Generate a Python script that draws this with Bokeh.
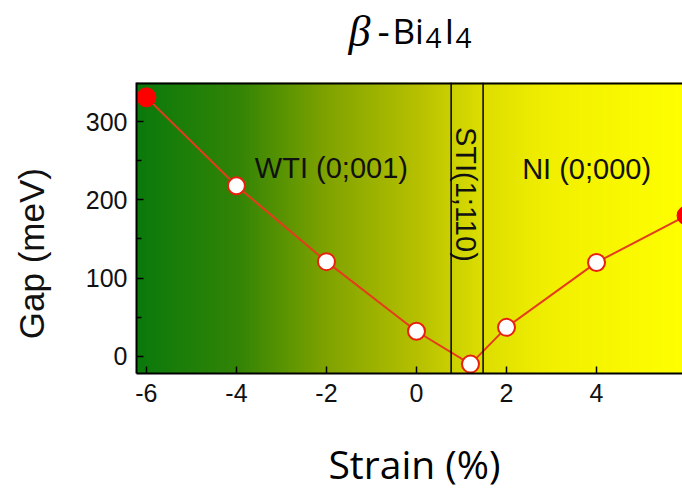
import numpy as np
from bokeh.plotting import figure
from bokeh.layouts import column, row
from bokeh.models import FixedTicker, Span, Range1d
from bokeh.core.properties import value
from bokeh.embed import file_html
from bokeh.resources import INLINE

# Band gap of beta-Bi4I4 versus uniaxial strain
strain = [-6, -4, -2, 0, 1.2, 2, 4, 6]
gap = [331, 218, 121, 32, -10, 37, 120, 180]
is_endpoint = [True, False, False, False, False, False, False, True]

# Topological phase boundaries (strain, %) and phase names
phase_bounds = [0.77, 1.48]
phase_names = ["WTI (0;001)", "STI(1;110)", "NI (0;000)"]
phase_name_x = [-1.89, 1.11, 3.78]
phase_name_y = [241, 207, 240]
phase_name_angle = [0.0, -np.pi / 2, 0.0]

x_ticks = [-6, -4, -2, 0, 2, 4, 6]
y_ticks = [0, 100, 200, 300]
y_minor_ticks = [50, 150, 250]

X_RANGE = (-6.22, 5.91)
Y_RANGE = (-22, 350)

FONT = "Liberation Sans"


def text_panel(width, height, x0, y0):
    """Axis-free strip whose data units are page pixels (y grows downward)."""
    f = figure(width=width, height=height,
               x_range=Range1d(x0, x0 + width), y_range=Range1d(y0 + height, y0),
               x_axis_type=None, y_axis_type=None, min_border=0,
               toolbar_location=None, output_backend="svg")
    f.outline_line_color = None
    f.grid.visible = False
    return f


# ---- title strip: beta-Bi4I4 -------------------------------------------
title = text_panel(682, 80, 0, 0)
title.text(x=[348], y=[31], text=["β"], text_font=value("Liberation Serif"),
           text_font_style="italic", text_font_size="44px", text_color="black",
           text_baseline="alphabetic")
title.text(x=[377], y=[30], text=["-"], text_font=value("Open Sans"),
           text_font_size="38px", text_color="black", text_baseline="alphabetic")
title.text(x=[392, 444], y=[30, 30], text=["Bi", "I"], text_font=value("Open Sans"),
           text_font_size="35px", text_color="black", text_baseline="alphabetic")
title.text(x=[425, 455], y=[37, 37], text=["4", "4"], text_font=value("Open Sans"),
           text_font_size="28px", text_color="black", text_baseline="alphabetic")

# ---- y-axis title strip ------------------------------------------------
ylab = text_panel(70, 340, 0, 80)
ylab.text(x=[31], y=[280], text=["Gap (meV)"], angle=[np.pi / 2],
          text_align="center", text_baseline="alphabetic",
          text_font=value(FONT), text_font_size="35px", text_color="#111111")

# ---- x-axis title strip ------------------------------------------------
xlab = text_panel(682, 71, 0, 420)
xlab.text(x=[414], y=[463], text=["Strain (%)"], text_align="center",
          text_baseline="alphabetic", text_font=value("Open Sans"),
          text_font_size="39px", text_color="black")

# ---- main plot ---------------------------------------------------------
p = figure(
    width=612, height=340,
    x_range=Range1d(*X_RANGE), y_range=Range1d(*Y_RANGE),
    min_border_left=66, min_border_right=0,
    min_border_top=2, min_border_bottom=47,
    toolbar_location=None, output_backend="svg",
    background_fill_color="white", border_fill_color="white",
)
p.outline_line_color = None
p.grid.visible = False

# green-to-yellow background shading across the strain axis
grad_x = [-6.22, -4, -2, 0, 0.77, 1.48, 3, 5.91]
grad_rgb = [(10, 122, 12), (50, 132, 6), (128, 163, 0), (182, 192, 0),
            (202, 208, 0), (222, 222, 0), (242, 240, 0), (255, 255, 0)]
n_px = 546
xs = np.linspace(X_RANGE[0], X_RANGE[1], n_px)
img = np.empty((1, n_px), dtype=np.uint32)
view = img.view(dtype=np.uint8).reshape((1, n_px, 4))
for ch in range(3):
    view[0, :, ch] = np.interp(xs, grad_x, [c[ch] for c in grad_rgb]).astype(np.uint8)
view[0, :, 3] = 255
p.image_rgba(image=[img], x=X_RANGE[0], y=Y_RANGE[0],
             dw=X_RANGE[1] - X_RANGE[0], dh=Y_RANGE[1] - Y_RANGE[0])

# phase boundaries
for b in phase_bounds:
    p.add_layout(Span(location=b, dimension="height",
                      line_color="black", line_width=1.5))

# top edge of the frame
p.add_layout(Span(location=Y_RANGE[1], dimension="width",
                  line_color="black", line_width=4))

# phase labels
p.text(x=phase_name_x, y=phase_name_y, text=phase_names, angle=phase_name_angle,
       text_align="center", text_baseline="middle",
       text_font=value(FONT), text_font_size="29px", text_color="#111111")

# gap curve
p.line(strain, gap, line_color="#e43c1c", line_width=2)
open_x = [s for s, e in zip(strain, is_endpoint) if not e]
open_y = [g for g, e in zip(gap, is_endpoint) if not e]
end_x = [s for s, e in zip(strain, is_endpoint) if e]
end_y = [g for g, e in zip(gap, is_endpoint) if e]
p.scatter(open_x, open_y, size=17, fill_color="white",
          line_color="#e8200c", line_width=2)
p.scatter(end_x, end_y, size=19, fill_color="#ff0000", line_color="#ff0000")

# axes
for ax in (p.xaxis, p.yaxis):
    ax.axis_line_width = 2
    ax.axis_line_color = "black"
    ax.major_tick_in = 7
    ax.major_tick_out = 0
    ax.major_tick_line_width = 1.5
    ax.major_tick_line_color = "black"
    ax.minor_tick_line_color = "black"
    ax.minor_tick_line_width = 1.5
    ax.major_label_text_font = FONT
    ax.major_label_text_font_size = "25px"
    ax.major_label_text_color = "#111111"

p.xaxis.ticker = FixedTicker(ticks=x_ticks)
p.xaxis.major_label_overrides = {t: str(t) for t in x_ticks}
p.xaxis.minor_tick_in = 0
p.xaxis.minor_tick_out = 0
p.xaxis.major_label_standoff = 10

p.yaxis.ticker = FixedTicker(ticks=y_ticks, minor_ticks=y_minor_ticks)
p.yaxis.minor_tick_in = 5
p.yaxis.minor_tick_out = 0
p.yaxis.major_label_standoff = 9

layout = column(title, row(ylab, p), xlab)

open("out.html", "w").write(file_html(layout, INLINE))
